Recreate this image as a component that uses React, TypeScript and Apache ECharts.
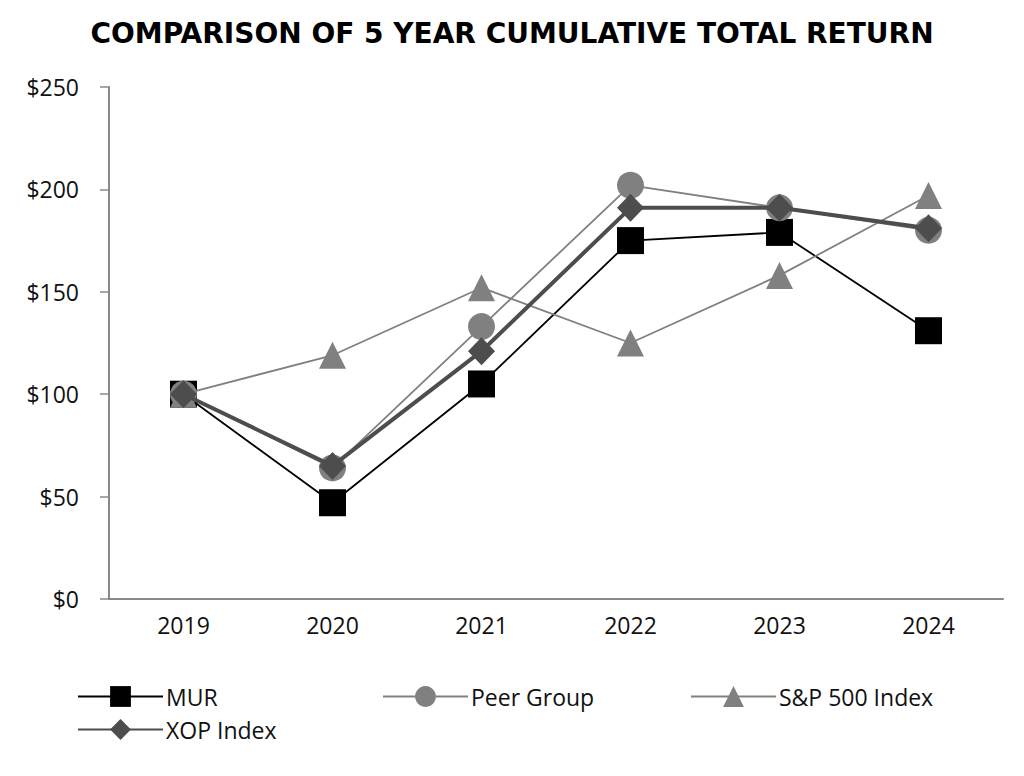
import React, { useEffect, useRef } from "react";
import * as echarts from "echarts";

const years = ["2019", "2020", "2021", "2022", "2023", "2024"];
const mur = [100, 47, 105, 175, 179, 131];
const peer = [100, 64, 133, 202, 191, 180];
const sp500 = [100, 119, 152, 125, 158, 197];
const xop = [100, 65, 121, 191, 191, 181];
const yTicks = [0, 50, 100, 150, 200, 250];

const FONT = "Open Sans";

export default function App() {
  const ref = useRef<HTMLDivElement>(null);
  useEffect(() => {
    if (!ref.current) return;
    const chart = echarts.init(ref.current, null, { renderer: "svg" });
    const legendBase = {
      orient: "horizontal",
      itemWidth: 85,
      itemHeight: 26,
      itemGap: 10,
      textStyle: { fontFamily: FONT, fontSize: 23, color: "#111", padding: [0, 0, 0, -2] },
      inactiveColor: "#ccc",
    };
    chart.setOption({
      animation: false,
      backgroundColor: "#fff",
      title: {
        text: "COMPARISON OF 5 YEAR CUMULATIVE TOTAL RETURN",
        left: "center",
        top: 14,
        textStyle: { fontFamily: "DejaVu Sans", fontWeight: "bold", fontSize: 28, color: "#000" },
      },
      legend: [
        { ...legendBase, data: ["MUR"], left: 72, top: 680 },
        { ...legendBase, data: ["Peer Group"], left: 377, top: 680 },
        { ...legendBase, data: ["S&P 500 Index"], left: 685, top: 680 },
        { ...legendBase, data: ["XOP Index"], left: 72, top: 713 },
      ],
      grid: { left: 109, right: 21, top: 87, bottom: 177, containLabel: false },
      xAxis: {
        type: "category",
        data: years,
        boundaryGap: true,
        axisLine: { lineStyle: { color: "#888", width: 2 } },
        axisTick: { alignWithLabel: true, length: 10, lineStyle: { color: "#888", width: 1.5 } },
        axisLabel: { fontFamily: FONT, fontSize: 23, color: "#111", margin: 14 },
      },
      yAxis: {
        type: "value",
        min: 0,
        max: 250,
        interval: 50,
        axisLine: { show: true, lineStyle: { color: "#888", width: 2 } },
        axisTick: { show: true, length: 9, lineStyle: { color: "#888", width: 1.5 } },
        splitLine: { show: false },
        axisLabel: {
          fontFamily: FONT,
          fontSize: 23,
          color: "#111",
          margin: 30,
          formatter: (v: number) => (yTicks.includes(v) ? "$" + v : ""),
        },
      },
      series: [
        {
          name: "MUR",
          type: "line",
          data: mur,
          symbol: "rect",
          symbolSize: 27,
          z: 1,
          lineStyle: { color: "#000", width: 1.8 },
          itemStyle: { color: "#000" },
        },
        {
          name: "Peer Group",
          type: "line",
          data: peer,
          symbol: "circle",
          symbolSize: 27,
          z: 2,
          lineStyle: { color: "#808080", width: 1.8 },
          itemStyle: { color: "#808080" },
        },
        {
          name: "S&P 500 Index",
          type: "line",
          data: sp500,
          symbol: "triangle",
          symbolSize: 27,
          z: 3,
          lineStyle: { color: "#808080", width: 1.8 },
          itemStyle: { color: "#808080" },
        },
        {
          name: "XOP Index",
          type: "line",
          data: xop,
          symbol: "diamond",
          symbolSize: [27, 28],
          z: 4,
          lineStyle: { color: "#4d4d4d", width: 4 },
          itemStyle: { color: "#4d4d4d" },
        },
      ],
    });
    return () => chart.dispose();
  }, []);
  return <div ref={ref} style={{ width: 1024, height: 776, margin: -8 }} />;
}
